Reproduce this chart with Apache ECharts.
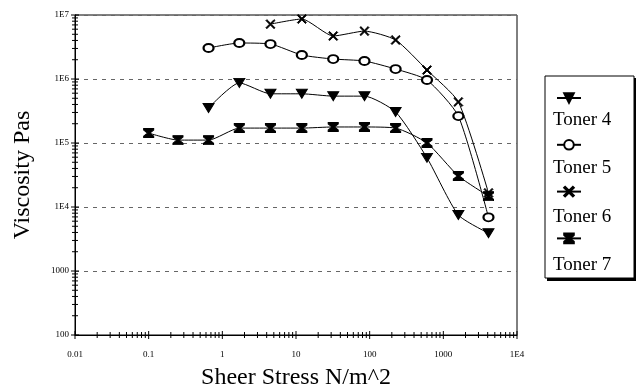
<!DOCTYPE html>
<html>
<head>
<meta charset="utf-8">
<script src="https://cdn.jsdelivr.net/npm/echarts@6/dist/echarts.min.js"></script>
<style>html,body{margin:0;padding:0;background:#fff;}#c{width:636px;height:391px;}</style>
</head>
<body>
<div id="c"></div>
<script>
// ---- data ----
const seriesNames = ['Toner 4', 'Toner 5', 'Toner 6', 'Toner 7'];
const toner4X = [0.65, 1.7, 4.5, 12, 32, 85, 225, 600, 1600, 4100];
const toner4Y = [352000, 870000, 587000, 587000, 540000, 540000, 305000, 58600, 7500, 3900];
const toner5X = [0.65, 1.7, 4.5, 12, 32, 85, 225, 600, 1600, 4100];
const toner5Y = [3050000, 3650000, 3520000, 2370000, 2050000, 1910000, 1430000, 964000, 263000, 6900];
const toner6X = [4.5, 12, 32, 85, 225, 600, 1600, 4100];
const toner6Y = [7200000, 8660000, 4700000, 5600000, 4070000, 1380000, 438000, 16600];
const toner7X = [0.1, 0.25, 0.65, 1.7, 4.5, 12, 32, 85, 225, 600, 1600, 4100];
const toner7Y = [143000, 111000, 111000, 171000, 171000, 171000, 178000, 178000, 171000, 100000, 30500, 14800];
const xTickLabels = ['0.01', '0.1', '1', '10', '100', '1000', '1E4'];
const yTickLabels = ['100', '1000', '1E4', '1E5', '1E6', '1E7'];
const xDecades = [0.01, 0.1, 1, 10, 100, 1000, 10000];
const yDecades = [100, 1000, 10000, 100000, 1000000, 10000000];
const minorMultipliers = [2, 3, 4, 5, 6, 7, 8, 9];

const pair = (xs, ys) => xs.map((x, i) => [x, ys[i]]);
const SERIF = '"Liberation Serif", "DejaVu Serif", serif';

const xTicks = [];
xDecades.forEach((d, i) => {
  xTicks.push([d, 1]);
  if (i < xDecades.length - 1) minorMultipliers.forEach(m => xTicks.push([d * m, 0]));
});
const yTicks = [];
yDecades.forEach((d, i) => {
  yTicks.push([d, 1]);
  if (i < yDecades.length - 1) minorMultipliers.forEach(m => yTicks.push([d * m, 0]));
});
const tickData = xTicks.map(t => [t[0], 100, 0, t[1]]).concat(yTicks.map(t => [0.01, t[0], 1, t[1]]));

const symTri = 'triangle';
const symX = 'path://M0,1 L1,0 L5,4 L9,0 L10,1 L6,5 L10,9 L9,10 L5,6 L1,10 L0,9 L4,5 Z';
const symHour = 'path://M0,0 L10,0 L10,1.6 L6.2,5 L10,8.4 L10,10 L0,10 L0,8.4 L3.8,5 L0,1.6 Z';

function lineSeries(name, data, symbol, size, extra) {
  return Object.assign({
    name: name, type: 'line', data: data, symbol: symbol, symbolSize: size,
    smooth: 0.2, showSymbol: true,
    lineStyle: { color: '#000', width: 1 },
    itemStyle: { color: '#000', borderColor: '#000', borderWidth: 1 },
    z: 3
  }, extra || {});
}

const chart = echarts.init(document.getElementById('c'));
chart.setOption({
  animation: false,
  backgroundColor: '#fff',
  grid: { left: 75, right: 119, top: 15, bottom: 56, show: true, borderColor: '#000', borderWidth: 1, outerBoundsMode: 'none', containLabel: false },
  xAxis: {
    type: 'log', logBase: 10, min: 0.01, max: 10000,
    axisLine: { lineStyle: { color: '#000', width: 1 } },
    axisTick: { show: false },
    splitLine: { show: false },
    axisLabel: {
      color: '#000', fontFamily: SERIF, fontSize: 9, margin: 15,
      formatter: v => xTickLabels[Math.round(Math.log10(v)) + 2]
    },
    name: 'Sheer Stress N/m^2', nameLocation: 'middle', nameGap: 31,
    nameTextStyle: { color: '#000', fontFamily: SERIF, fontSize: 24 }
  },
  yAxis: {
    type: 'log', logBase: 10, min: 100, max: 10000000,
    axisLine: { lineStyle: { color: '#000', width: 1 } },
    axisTick: { show: false },
    splitLine: { show: true, lineStyle: { color: '#666', type: [4, 5], width: 1 } },
    axisLabel: {
      color: '#000', fontFamily: SERIF, fontSize: 9, margin: 6,
      formatter: v => yTickLabels[Math.round(Math.log10(v)) - 2]
    },
    name: 'Viscosity Pas', nameLocation: 'middle', nameGap: 40,
    nameTextStyle: { color: '#000', fontFamily: SERIF, fontSize: 24 }
  },
  legend: {
    orient: 'vertical', left: 551, top: 87,
    itemWidth: 24, itemHeight: 12, itemGap: 35,
    data: seriesNames,
    formatter: () => '',
    textStyle: { fontSize: 1 },
    inactiveColor: '#000'
  },
  graphic: [
    { type: 'rect', shape: { x: 547, y: 78, width: 90, height: 203 }, style: { fill: '#000' }, z: 0 },
    { type: 'rect', shape: { x: 545, y: 76, width: 89, height: 202 }, style: { fill: '#fff', stroke: '#000', lineWidth: 1 }, z: 1 },
    { type: 'text', left: 553, top: 111, style: { text: 'Toner 4', font: '19px ' + SERIF, fill: '#000' }, z: 5 },
    { type: 'text', left: 553, top: 159, style: { text: 'Toner 5', font: '19px ' + SERIF, fill: '#000' }, z: 5 },
    { type: 'text', left: 553, top: 208, style: { text: 'Toner 6', font: '19px ' + SERIF, fill: '#000' }, z: 5 },
    { type: 'text', left: 553, top: 256, style: { text: 'Toner 7', font: '19px ' + SERIF, fill: '#000' }, z: 5 }
  ],
  series: [
    lineSeries('Toner 4', pair(toner4X, toner4Y), symTri, [11, 9], { symbolRotate: 180 }),
    lineSeries('Toner 5', pair(toner5X, toner5Y), 'emptyCircle', [10, 8]),
    lineSeries('Toner 6', pair(toner6X, toner6Y), symX, 9),
    lineSeries('Toner 7', pair(toner7X, toner7Y), symHour, [10, 9]),
    {
      type: 'custom', silent: true, z: 4,
      data: tickData,
      renderItem: function (params, api) {
        const p = api.coord([api.value(0), api.value(1)]);
        const horizAxis = api.value(2) === 0;
        const len = api.value(3) === 1 ? 4 : 3;
        const shape = horizAxis
          ? { x1: p[0], y1: p[1] - len, x2: p[0], y2: p[1] + len }
          : { x1: p[0] - len, y1: p[1], x2: p[0] + len, y2: p[1] };
        return { type: 'line', shape: shape, style: { stroke: '#000', lineWidth: 1 } };
      }
    }
  ]
});
</script>
</body>
</html>
